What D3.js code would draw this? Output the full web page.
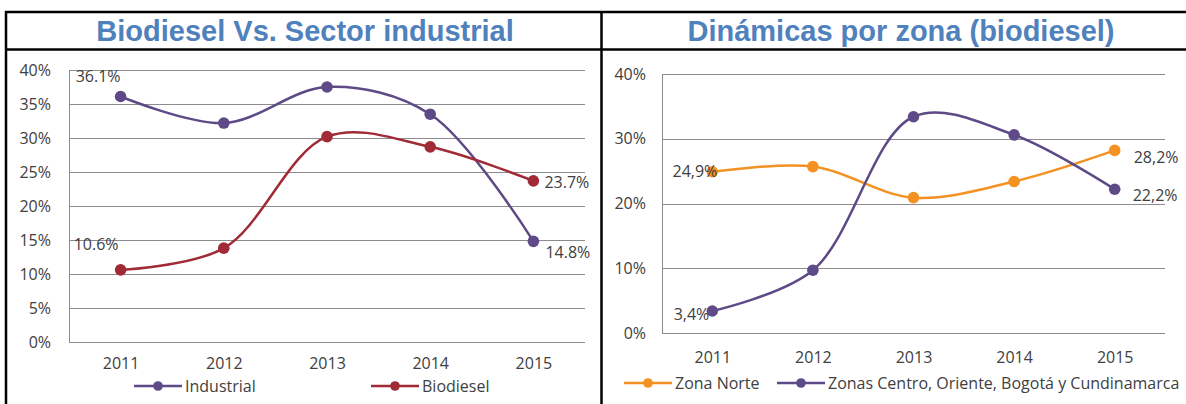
<!DOCTYPE html>
<html>
<head>
<meta charset="utf-8">
<script src="https://cdn.jsdelivr.net/npm/d3@7"></script>
<style>
  html, body { margin: 0; padding: 0; background: #fff; }
  svg { display: block; }
  .tick-label { font-family: "Open Sans", Lato, sans-serif; font-size: 16px; fill: #404040; }
  .title { font-family: "Liberation Sans", Arial, sans-serif; font-weight: bold; font-size: 29px; fill: #4f81bd; }
</style>
</head>
<body>
<svg id="chart" width="1186" height="404"></svg>
<script>
// Years on the category axis (shared by both panels)
const years = ["2011", "2012", "2013", "2014", "2015"];

// Panel 1: Biodiesel vs. industrial sector (share, %)
const industrial = [36.1, 32.2, 37.5, 33.5, 14.8];
const biodiesel  = [10.6, 13.8, 30.2, 28.7, 23.7];
const leftTicks  = [0, 5, 10, 15, 20, 25, 30, 35, 40];

// Panel 2: dynamics by zone (biodiesel, %)
const zonaNorte   = [24.9, 25.7, 20.9, 23.4, 28.2];
const zonasCentro = [3.4, 9.7, 33.4, 30.6, 22.2];
const rightTicks  = [0, 10, 20, 30, 40];

const titles = ["Biodiesel Vs. Sector industrial", "Dinámicas por zona (biodiesel)"];
const leftNames  = ["Industrial", "Biodiesel"];
const rightNames = ["Zona Norte", "Zonas Centro, Oriente, Bogotá y Cundinamarca"];

const svg = d3.select("#chart");
svg.append("rect").attr("width", 1186).attr("height", 404).attr("fill", "#fff");

// ---- table frame ----
const frame = svg.append("g").attr("stroke", "#000").attr("fill", "none");
frame.append("line").attr("x1", 5).attr("x2", 1186).attr("y1", 12).attr("y2", 12).attr("stroke-width", 2.5);
frame.append("line").attr("x1", 5).attr("x2", 1186).attr("y1", 49.5).attr("y2", 49.5).attr("stroke-width", 2.5);
frame.append("line").attr("x1", 6).attr("x2", 6).attr("y1", 11).attr("y2", 404).attr("stroke-width", 2.5);
frame.append("line").attr("x1", 601.5).attr("x2", 601.5).attr("y1", 11).attr("y2", 404).attr("stroke-width", 2.5);

svg.append("text").attr("class", "title").attr("x", 305).attr("y", 40.5)
  .attr("text-anchor", "middle").text(titles[0]);
svg.append("text").attr("class", "title").attr("x", 901).attr("y", 40.5)
  .attr("text-anchor", "middle").text(titles[1]);

function panel(cfg) {
  const g = svg.append("g");
  const x = d3.scalePoint().domain(years).range([cfg.x0, cfg.x1]).padding(0.5);
  const y = d3.scaleLinear().domain([0, 40]).range([cfg.y0, cfg.y1]);

  // horizontal gridlines
  g.selectAll(".grid").data(cfg.ticks).join("line")
    .attr("x1", cfg.x0).attr("x2", cfg.x1)
    .attr("y1", d => Math.round(y(d)) + 0.5).attr("y2", d => Math.round(y(d)) + 0.5)
    .attr("stroke", "#8c8c8c").attr("stroke-width", 1);
  // vertical axis line
  g.append("line").attr("x1", cfg.x0 + 0.5).attr("x2", cfg.x0 + 0.5)
    .attr("y1", Math.round(y(40))).attr("y2", Math.round(y(0)) + 1)
    .attr("stroke", "#8c8c8c");

  // y tick labels
  const yAxis = d3.axisLeft(y).tickValues(cfg.ticks).tickSize(0).tickPadding(0)
    .tickFormat(d => d + "%");
  const ya = g.append("g").attr("transform", `translate(${cfg.yLabelX},0)`).call(yAxis);
  ya.select(".domain").remove();
  ya.selectAll("text").attr("class", "tick-label").attr("font-family", null).attr("font-size", null);

  // x tick labels
  const xAxis = d3.axisBottom(x).tickSize(0).tickPadding(0);
  const xa = g.append("g").attr("transform", `translate(0,${cfg.xLabelY})`).call(xAxis);
  xa.select(".domain").remove();
  xa.selectAll("text").attr("class", "tick-label").attr("font-family", null).attr("font-size", null)
    .attr("dy", "0.35em");

  const line = d3.line().x((d, i) => x(years[i])).y(d => y(d)).curve(d3.curveCatmullRom.alpha(0.5));

  cfg.series.forEach(s => {
    g.append("path").datum(s.values).attr("d", line)
      .attr("fill", "none").attr("stroke", s.color).attr("stroke-width", 2.5);
    g.selectAll(null).data(s.values).join("circle")
      .attr("cx", (d, i) => x(years[i])).attr("cy", d => y(d)).attr("r", 5.8)
      .attr("fill", s.color);
  });

  // data labels on the first and last year
  cfg.series.forEach(s => {
    s.labels.forEach(lb => {
      const v = s.values[lb.i];
      g.append("text").attr("class", "tick-label")
        .attr("x", x(years[lb.i]) + lb.dx).attr("y", y(v) + lb.dy)
        .attr("dy", "0.35em").attr("text-anchor", lb.anchor)
        .text(cfg.fmt(v));
    });
  });

  // legend
  cfg.series.forEach((s, si) => {
    const lx = cfg.legendX[si];
    const lg = g.append("g").attr("transform", `translate(${lx},${cfg.legendY})`);
    lg.append("line").attr("x1", 0).attr("x2", 48).attr("stroke", s.color).attr("stroke-width", 2.5);
    lg.append("circle").attr("cx", 24).attr("r", 4.8).attr("fill", s.color);
    lg.append("text").attr("class", "tick-label").attr("x", 51).attr("dy", "0.35em").text(s.name);
  });
}

panel({
  x0: 69, x1: 585, y0: 342, y1: 70, ticks: leftTicks, yLabelX: 51, xLabelY: 363,
  fmt: v => v.toFixed(1) + "%",
  legendY: 386, legendX: [134, 371],
  series: [
    { name: leftNames[0], values: industrial, color: "#5d4a86",
      labels: [{ i: 0, dx: 0, dy: -20, anchor: "end" }, { i: 4, dx: 12, dy: 11, anchor: "start" }] },
    { name: leftNames[1], values: biodiesel, color: "#a02a35",
      labels: [{ i: 0, dx: -2, dy: -26, anchor: "end" }, { i: 4, dx: 11, dy: 2, anchor: "start" }] }
  ]
});

panel({
  x0: 662, x1: 1165, y0: 333, y1: 74, ticks: rightTicks, yLabelX: 646, xLabelY: 357,
  fmt: v => v.toFixed(1).replace(".", ",") + "%",
  legendY: 383, legendX: [624, 777],
  series: [
    { name: rightNames[0], values: zonaNorte, color: "#f39122",
      labels: [{ i: 0, dx: 5, dy: 0, anchor: "end" }, { i: 4, dx: 19, dy: 7, anchor: "start" }] },
    { name: rightNames[1], values: zonasCentro, color: "#5d4a86",
      labels: [{ i: 0, dx: -3, dy: 3, anchor: "end" }, { i: 4, dx: 18, dy: 6, anchor: "start" }] }
  ]
});
</script>
</body>
</html>
